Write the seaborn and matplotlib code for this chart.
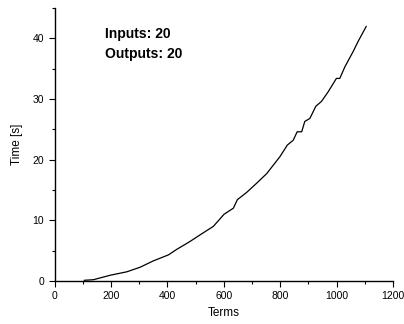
import matplotlib
matplotlib.use("Agg")
import matplotlib.pyplot as plt
import seaborn as sns
import pandas as pd
from matplotlib.ticker import MultipleLocator

terms = [105, 138, 197, 256, 303, 350, 404, 433, 480, 516, 563, 601, 634, 648, 681, 716,
         752, 799, 825, 846, 860, 876, 887, 905, 926, 946, 970, 999, 1011, 1029, 1058, 1076, 1105]
time_s = [0.1, 0.2, 0.93, 1.5, 2.25, 3.3, 4.3, 5.2, 6.5, 7.6, 9.0, 11.0, 12.0, 13.4, 14.6, 16.1,
          17.7, 20.5, 22.4, 23.2, 24.6, 24.6, 26.3, 26.8, 28.8, 29.6, 31.2, 33.4, 33.4, 35.3, 37.8, 39.5, 42.0]
annotation = ["Inputs: 20", "Outputs: 20"]

sns.set_style("ticks")
plt.rcParams['font.family'] = ['Liberation Sans', 'DejaVu Sans']
plt.rcParams['text.color'] = 'black'
plt.rcParams['axes.labelcolor'] = 'black'
plt.rcParams['xtick.color'] = 'black'
plt.rcParams['ytick.color'] = 'black'

df = pd.DataFrame({"Terms": terms, "Time [s]": time_s})

fig = plt.figure(figsize=(4.04, 3.24), dpi=100)
ax = fig.add_axes([0.135, 0.133, 0.838, 0.842])
sns.lineplot(data=df, x="Terms", y="Time [s]", ax=ax, color="black", linewidth=0.9)

ax.set_xlim(0, 1200)
ax.set_ylim(0, 45)
ax.xaxis.set_major_locator(MultipleLocator(200))
ax.xaxis.set_minor_locator(MultipleLocator(100))
ax.yaxis.set_major_locator(MultipleLocator(10))
ax.yaxis.set_minor_locator(MultipleLocator(5))
ax.tick_params(which="major", length=4, width=0.8, labelsize=7.5, direction="out", colors="black")
ax.tick_params(which="minor", length=2.5, width=0.8, direction="out", colors="black")
sns.despine(ax=ax)
for s in ["left", "bottom"]:
    ax.spines[s].set_linewidth(1.0)
    ax.spines[s].set_color("black")
ax.set_xlabel("Terms", fontsize=8.5, labelpad=4, color="black")
ax.set_ylabel("Time [s]", fontsize=8.5, labelpad=7, color="black")

ax.text(0.15, 0.905, annotation[0], transform=ax.transAxes, fontsize=10, fontweight="bold",
        va="center", color="black")
ax.text(0.15, 0.83, annotation[1], transform=ax.transAxes, fontsize=10, fontweight="bold",
        va="center", color="black")

fig.savefig("out.png", dpi=100)
